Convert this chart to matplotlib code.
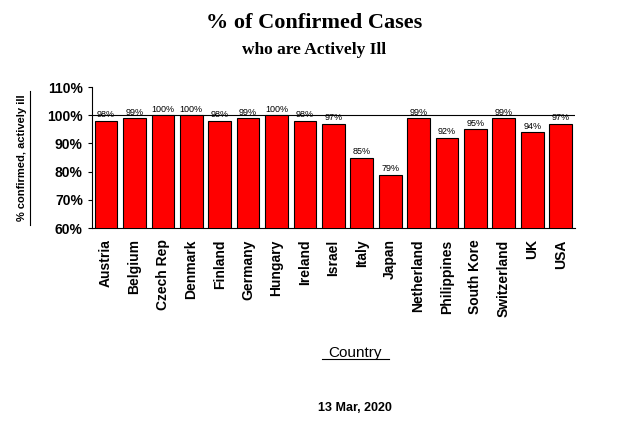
import matplotlib
matplotlib.use("Agg")
import matplotlib.pyplot as plt
from matplotlib.ticker import FuncFormatter

countries = ["Austria", "Belgium", "Czech Rep", "Denmark", "Finland", "Germany", "Hungary",
             "Ireland", "Israel", "Italy", "Japan", "Netherland", "Philippines", "South Kore",
             "Switzerland", "UK", "USA"]
values = [98, 99, 100, 100, 98, 99, 100, 98, 97, 85, 79, 99, 92, 95, 99, 94, 97]

fig = plt.figure(figsize=(6.29, 4.33), dpi=100)
ax = fig.add_axes([0.146, 0.473, 0.768, 0.326])
x = range(len(countries))
ax.bar(x, values, width=0.8, color="#ff0000", edgecolor="black", linewidth=0.8, zorder=3)
for i, v in zip(x, values):
    ax.text(i, v + 0.5, f"{v}%", ha="center", va="bottom", fontsize=6.5, family="Liberation Sans")
ax.set_ylim(60, 110)
ax.set_xlim(-0.5, len(countries) - 0.5)
ax.set_yticks(range(60, 111, 10))
ax.yaxis.set_major_formatter(FuncFormatter(lambda v, p: f"{int(v)}%"))
ax.axhline(100, color="black", linewidth=0.8, zorder=2)
ax.set_xticks(list(x))
ax.set_xticklabels(countries, rotation=90, fontsize=10, fontweight="bold", family="Liberation Sans")
for t in ax.get_yticklabels():
    t.set_fontsize(10); t.set_fontweight("bold"); t.set_family("Liberation Sans")
ax.tick_params(axis="x", length=0, pad=8)
ax.tick_params(axis="y", length=3)
for s in ["top", "right"]:
    ax.spines[s].set_visible(False)

fig.text(0.5, 0.935, "% of Confirmed Cases", ha="center", fontsize=16, fontweight="bold", family="Liberation Serif")
fig.text(0.5, 0.875, "who are Actively Ill", ha="center", fontsize=12.5, fontweight="bold", family="Liberation Serif")
fig.text(0.035, 0.635, "% confirmed, actively ill", rotation=90, ha="center", va="center",
         fontsize=8, fontweight="bold", family="Liberation Sans")
fig.add_artist(plt.Line2D([0.047, 0.047], [0.48, 0.79], color="black", linewidth=0.8))
fig.text(0.565, 0.175, "Country", ha="center", fontsize=11, family="Liberation Sans")
fig.add_artist(plt.Line2D([0.512, 0.618], [0.17, 0.17], color="black", linewidth=0.8))
fig.text(0.565, 0.05, "13 Mar, 2020", ha="center", fontsize=9, fontweight="bold", family="Liberation Sans")
fig.savefig("out.png", dpi=100)
